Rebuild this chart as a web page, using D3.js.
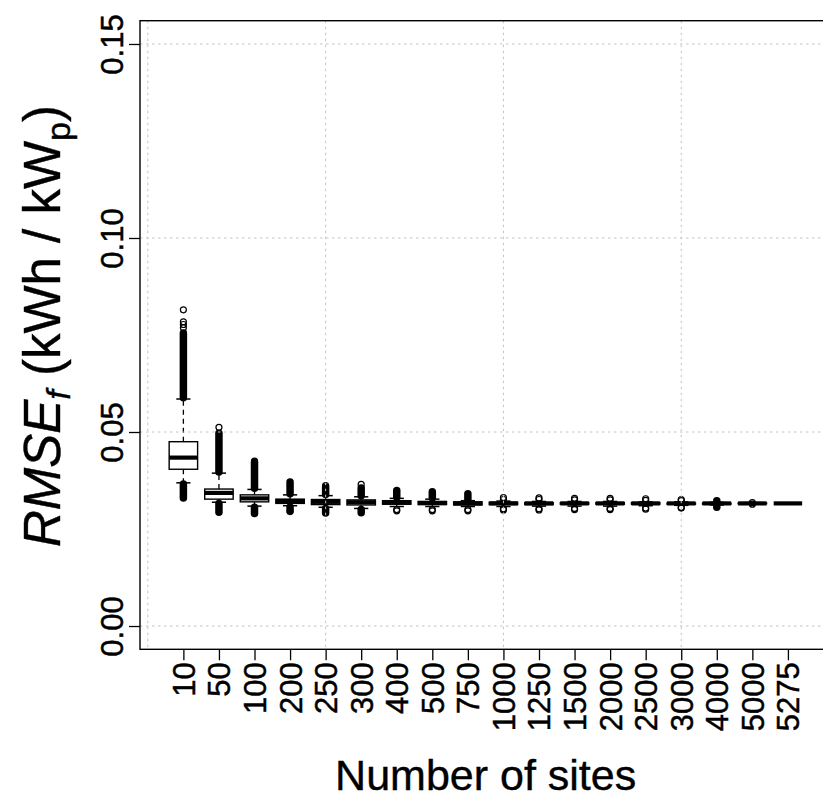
<!DOCTYPE html>
<html>
<head>
<meta charset="utf-8">
<script src="https://cdn.jsdelivr.net/npm/d3@7"></script>
<style>
  html, body { margin: 0; padding: 0; background: #fff; }
  svg { display: block; }
  text { font-family: "Liberation Sans", Arial, sans-serif; fill: #000; }
</style>
</head>
<body>
<svg id="chart" width="823" height="800"></svg>
<script>
// ---------------- data ----------------
const sites = ["10","50","100","200","250","300","400","500","750","1000","1250","1500","2000","2500","3000","4000","5000","5275"];
const whiskerLow  = [0.0369,0.0319,0.0309,0.0310,0.0306,0.0303,0.0308,0.0308,0.0308,0.0308,0.0309,0.0309,0.0309,0.0310,0.0311,0.0312,0.0314,0.0316];
const quartile1   = [0.0404,0.0327,0.0320,0.0316,0.0313,0.0312,0.0314,0.0313,0.0312,0.0313,0.0313,0.0314,0.0314,0.0314,0.0314,0.0314,0.0315,0.0316];
const medians     = [0.0434,0.0343,0.0329,0.0322,0.0320,0.0319,0.0318,0.0317,0.0316,0.0316,0.0316,0.0316,0.0316,0.0316,0.0316,0.0316,0.0316,0.0316];
const quartile3   = [0.0475,0.0353,0.0338,0.0327,0.0326,0.0325,0.0323,0.0321,0.0320,0.0319,0.0318,0.0318,0.0318,0.0318,0.0317,0.0317,0.0317,0.0316];
const whiskerHigh = [0.0585,0.0394,0.0352,0.0338,0.0336,0.0333,0.0329,0.0327,0.0323,0.0322,0.0321,0.0321,0.0321,0.0320,0.0320,0.0319,0.0318,0.0316];
// dense runs of overlapping outliers [from, to]
const upperBands = [[0.0588,0.0755],[0.0397,0.0497],[0.0355,0.0422],[0.0341,0.0371],[0.0339,0.0358],[0.0336,0.0356],[0.0332,0.0349],[0.0330,0.0346],[0.0326,0.0341],null,null,null,null,null,null,[0.0321,0.0323],null,null];
const lowerBands = [[0.0330,0.0366],[0.0293,0.0316],[0.0290,0.0306],[0.0297,0.0307],[0.0291,0.0303],[0.0292,0.0300],null,null,null,null,null,null,null,null,null,[0.0306,0.0308],null,null];
// individual outliers
const upperOutliers = [[0.0769,0.0777,0.0784,0.0815],[0.0512],[0.0425],[],[0.0362],[0.0365],[],[],[],[0.0326,0.0331],[0.0326,0.0330],[0.0325,0.0329],[0.0325,0.0329],[0.0324,0.0328],[0.0323,0.0326],[],[0.0318],[]];
const lowerOutliers = [[],[],[],[0.0295],[],[],[0.0300,0.0297],[0.0300,0.0297],[0.0300,0.0297],[0.0302,0.0299],[0.0302,0.0299],[0.0303,0.0300],[0.0303,0.0300],[0.0304,0.0301],[0.0306,0.0304],[],[0.0314],[]];
const yTicks = [0, 0.05, 0.10, 0.15];
const yTickLabels = ["0.00","0.05","0.10","0.15"];
const xGridAt = [0, 5, 10, 15];

// ---------------- layout ----------------
const svg = d3.select("#chart");
svg.append("rect").attr("width", 823).attr("height", 800).attr("fill", "#fff");

const n = sites.length;
const xPad = 0.04 * n;
const x = d3.scaleLinear().domain([0.5 - xPad, n + 0.5 + xPad]).range([140, 831.3]);
const yPad = 0.04 * 0.15;
const y = d3.scaleLinear().domain([-yPad, 0.15 + yPad]).range([649.3, 20.7]);

const plotL = x.range()[0], plotR = x.range()[1], plotT = y.range()[1], plotB = y.range()[0];
const boxW = (x(1) - x(0)) * 0.8;
const capW = boxW * 0.5;

const data = sites.map((s, i) => ({
  i: i + 1, s,
  lw: whiskerLow[i], q1: quartile1[i], med: medians[i], q3: quartile3[i], uw: whiskerHigh[i],
  ub: upperBands[i], lb: lowerBands[i], uo: upperOutliers[i], lo: lowerOutliers[i]
}));

const gBox = svg.append("g");
data.forEach(d => {
  const cx = x(d.i);
  const g = gBox.append("g");
  // whiskers (dashed)
  g.append("line").attr("x1", cx).attr("x2", cx).attr("y1", y(d.q3)).attr("y2", y(d.uw))
    .attr("stroke", "#000").attr("stroke-width", 1.3).attr("stroke-dasharray", "5,4");
  g.append("line").attr("x1", cx).attr("x2", cx).attr("y1", y(d.q1)).attr("y2", y(d.lw))
    .attr("stroke", "#000").attr("stroke-width", 1.3).attr("stroke-dasharray", "5,4");
  // dense outlier runs
  [d.ub, d.lb].forEach(b => {
    if (!b) return;
    g.append("line").attr("x1", cx).attr("x2", cx).attr("y1", y(b[0])).attr("y2", y(b[1]))
      .attr("stroke", "#000").attr("stroke-width", 7.5).attr("stroke-linecap", "round");
  });
  // staples
  [d.uw, d.lw].forEach(v => {
    g.append("line").attr("x1", cx - capW / 2).attr("x2", cx + capW / 2).attr("y1", y(v)).attr("y2", y(v))
      .attr("stroke", "#000").attr("stroke-width", 1.5);
  });
  // box
  g.append("rect").attr("x", cx - boxW / 2).attr("width", boxW)
    .attr("y", y(d.q3)).attr("height", Math.max(0, y(d.q1) - y(d.q3)))
    .attr("fill", "#fff").attr("stroke", "#000").attr("stroke-width", 1.4);
  // median
  g.append("line").attr("x1", cx - boxW / 2).attr("x2", cx + boxW / 2).attr("y1", y(d.med)).attr("y2", y(d.med))
    .attr("stroke", "#000").attr("stroke-width", 4.2);
  // individual outliers
  d.uo.concat(d.lo).forEach(v => {
    g.append("circle").attr("cx", cx).attr("cy", y(v)).attr("r", 3)
      .attr("fill", "none").attr("stroke", "#000").attr("stroke-width", 1.2);
  });
});

// grid (drawn on top, as in R's grid())
const gGrid = svg.append("g").attr("stroke", "#c4c4c4").attr("stroke-width", 1).attr("stroke-dasharray", "2.5,3.5");
yTicks.forEach(v => gGrid.append("line").attr("x1", plotL).attr("x2", plotR).attr("y1", y(v)).attr("y2", y(v)));
xGridAt.forEach(v => gGrid.append("line").attr("x1", x(v)).attr("x2", x(v)).attr("y1", plotT).attr("y2", plotB));

// frame
svg.append("rect").attr("x", plotL).attr("y", plotT).attr("width", plotR - plotL).attr("height", plotB - plotT)
  .attr("fill", "none").attr("stroke", "#000").attr("stroke-width", 1.4);

// axes
const xAxis = d3.axisBottom(x).tickValues(d3.range(1, n + 1)).tickSize(11).tickFormat(v => sites[v - 1]);
const gx = svg.append("g").attr("transform", `translate(0,${plotB})`).call(xAxis);
gx.select(".domain").remove();
gx.selectAll(".tick line").attr("stroke", "#000").attr("stroke-width", 1.3);
gx.selectAll(".tick text")
  .attr("font-size", 31).attr("font-family", "'Liberation Sans', Arial, sans-serif")
  .attr("stroke", "#000").attr("stroke-width", 0.45)
  .attr("text-anchor", "end").attr("dy", null).attr("y", 0).attr("x", 0)
  .attr("transform", "translate(11,13) rotate(-90)");

const yAxis = d3.axisLeft(y).tickValues(yTicks).tickSize(11).tickFormat((v, i) => yTickLabels[i]);
const gy = svg.append("g").attr("transform", `translate(${plotL},0)`).call(yAxis);
gy.select(".domain").remove();
gy.selectAll(".tick line").attr("stroke", "#000").attr("stroke-width", 1.3);
gy.selectAll(".tick text")
  .attr("font-size", 31).attr("font-family", "'Liberation Sans', Arial, sans-serif")
  .attr("stroke", "#000").attr("stroke-width", 0.45)
  .attr("text-anchor", "middle").attr("dy", null).attr("x", 0).attr("y", 0)
  .attr("transform", "translate(-17,0) rotate(-90)");

// axis titles
svg.append("text").attr("x", (plotL + plotR) / 2).attr("y", 790).attr("text-anchor", "middle")
  .attr("font-size", 43).attr("stroke", "#000").attr("stroke-width", 0.4).text("Number of sites");

const yt = svg.append("text").attr("transform", `translate(60,326) rotate(-90)`)
  .attr("text-anchor", "middle").attr("font-size", 51).attr("stroke", "#000").attr("stroke-width", 0.4);
yt.append("tspan").attr("font-style", "italic").text("RMSE");
yt.append("tspan").attr("font-style", "italic").attr("font-size", 34).attr("dy", 10).text("f");
yt.append("tspan").attr("dy", -10).text(" (kWh / kW");
yt.append("tspan").attr("font-size", 34).attr("dy", 10).text("p");
yt.append("tspan").attr("dy", -10).text(")");
</script>
</body>
</html>
